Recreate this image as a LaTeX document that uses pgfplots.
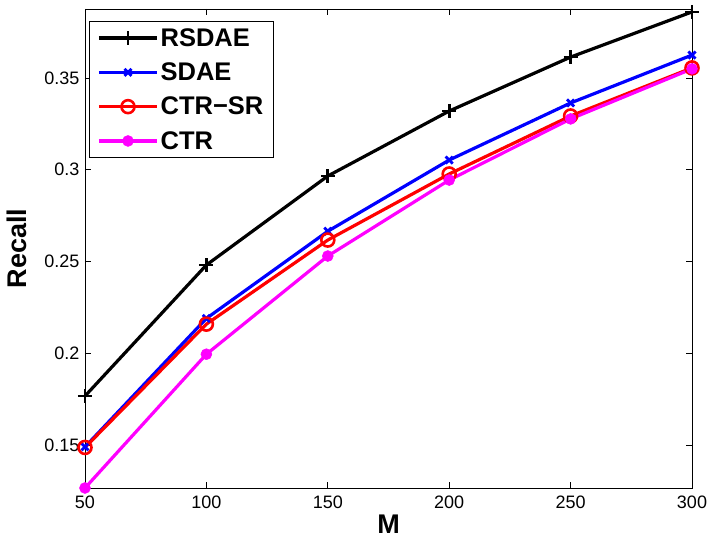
\documentclass[border=0pt]{standalone}
\usepackage{fontspec}
\setmainfont{Liberation Sans}
\usepackage{pgfplots}
\pgfplotsset{compat=1.18}
\definecolor{mblue}{rgb}{0,0,1}
\definecolor{mred}{rgb}{1,0,0}
\definecolor{mmag}{rgb}{1,0,1}
\begin{document}
\begin{tikzpicture}
\useasboundingbox (-85pt,-53pt) rectangle (625pt,488pt);
\begin{axis}[
  scale only axis,
  width=607pt, height=479pt,
  xmin=50, xmax=300,
  ymin=0.1266, ymax=0.3876,
  xtick={50,100,150,200,250,300},
  ytick={0.15,0.2,0.25,0.3,0.35},
  yticklabels={0.15,0.2,0.25,0.3,0.35},
  tick pos=both, tick align=inside,
  major tick length=6pt,
  /pgf/number format/assume math mode=true,
  ticklabel style={font=\fontsize{18}{20}\selectfont},
  xticklabel style={yshift=-4pt},
  yticklabel style={xshift=-2pt},
  axis line style={line width=0.8pt},
  every tick/.style={line width=0.8pt, black},
  xlabel={M}, ylabel={Recall},
  label style={font=\bfseries\fontsize{27}{30}\selectfont},
  xlabel style={at={(axis description cs:0.5,0)}, anchor=center, yshift=-36pt},
  ylabel style={at={(axis description cs:0,0.5)}, anchor=center, yshift=68pt},
  legend style={at={(4pt,467pt)}, anchor=north west, draw=black, line width=0.8pt,
    font=\bfseries\fontsize{25.5}{28}\selectfont, row sep=11pt,
    inner xsep=8pt, inner ysep=5pt},
  legend cell align=left,
  legend image code/.code={%
    \draw[#1, mark repeat=2, mark phase=2] plot coordinates {(0pt,0pt) (29pt,0pt) (58pt,0pt)};},
  every axis plot/.append style={line width=3.2pt},
]
\addplot[black, mark=+, mark size=7pt, mark options={line width=2.8pt}] coordinates {
  (50,0.1767) (100,0.2481) (150,0.2966) (200,0.3320) (250,0.3614) (300,0.3860)};
\addlegendentry{RSDAE}
\addplot[mblue, mark=x, mark size=5pt, mark options={line width=2.8pt}] coordinates {
  (50,0.1490) (100,0.2190) (150,0.2665) (200,0.3053) (250,0.3364) (300,0.3625)};
\addlegendentry{SDAE}
\addplot[mred, mark=o, mark size=6.5pt, mark options={line width=2.6pt}] coordinates {
  (50,0.1487) (100,0.2159) (150,0.2617) (200,0.2977) (250,0.3293) (300,0.3555)};
\addlegendentry{CTR−SR}
\addplot[mmag, mark=*, mark size=5.5pt, mark options={line width=0.5pt, fill=mmag}] coordinates {
  (50,0.1266) (100,0.1995) (150,0.2530) (200,0.2944) (250,0.3277) (300,0.3550)};
\addlegendentry{CTR}
\end{axis}
\end{tikzpicture}
\end{document}
